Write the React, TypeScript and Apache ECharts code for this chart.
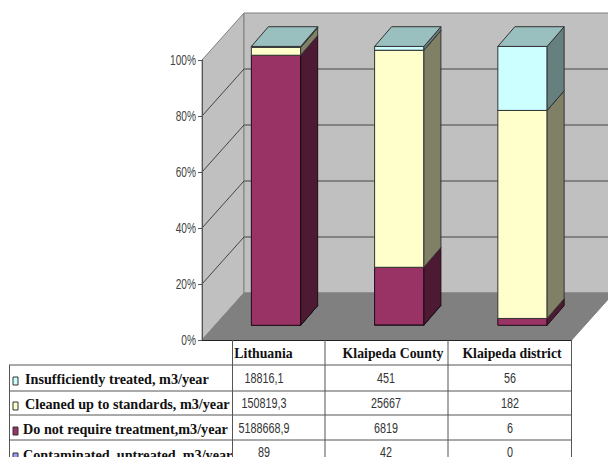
import React, { useEffect, useRef } from "react";
import * as echarts from "echarts";

const categories = ["Lithuania", "Klaipeda County", "Klaipeda district"];
const seriesNames = [
  "Contaminated, untreated, m3/year",
  "Do not require treatment,m3/year",
  "Cleaned up to standards, m3/year",
  "Insufficiently treated, m3/year",
];
const contaminated = [89, 42, 0];
const noTreatment = [5188668.9, 6819, 6];
const cleaned = [150819.3, 25667, 182];
const insufficient = [18816.1, 451, 56];
const yTicks = [0, 20, 40, 60, 80, 100];

const faceColors = ["#9999FF", "#993366", "#FFFFCC", "#CCFFFF"];
const sideColors = ["#4D4D80", "#4D1A33", "#808066", "#668080"];
const topColors = ["#7373BF", "#732650", "#BFBF99", "#99BFBF"];

const stackRows = [contaminated, noTreatment, cleaned, insufficient];
const totals = categories.map((_, i) => stackRows.reduce((a, r) => a + r[i], 0));

const DX = 42, DY = 47; // plot depth
const BAR_OX = 12.4, BAR_OY = 14.7; // bar front plane
const BAR_DX = 17, BAR_DY = 19.7; // bar depth
const BAR_SCALE = 0.996;

function segmentData(k: number) {
  return categories.map((c, i) => {
    let s = 0;
    for (let j = 0; j < k; j++) s += stackRows[j][i];
    const e = s + stackRows[k][i];
    return [c, (s / totals[i]) * 100, (e / totals[i]) * 100];
  });
}

const poly = (points: number[][], fill: string, stroke: string, lineWidth = 1) => ({
  type: "polygon",
  shape: { points },
  style: { fill, stroke, lineWidth },
});
const pline = (points: number[][], stroke: string) => ({
  type: "polyline",
  shape: { points },
  style: { fill: "none", stroke, lineWidth: 1 },
});

function renderWalls(params: any, api: any) {
  const cs = params.coordSys;
  const v = api.value(0);
  const y = api.coord([0, v])[1];
  const x0 = cs.x, x1 = cs.x + cs.width;
  const yTop = cs.y, yBot = cs.y + cs.height;
  const children: any[] = [];
  if (v === 0) {
    children.push(poly([[x0, yBot], [x0 + DX, yBot - DY], [x0 + DX, yTop - DY], [x0, yTop]], "#C0C0C0", "#808080"));
    children.push(poly([[x0 + DX, yBot - DY], [x0 + DX, yTop - DY], [x1 + DX, yTop - DY], [x1 + DX, yBot - DY]], "#C0C0C0", "#808080"));
    children.push(poly([[x0, yBot], [x1, yBot], [x1 + DX, yBot - DY], [x0 + DX, yBot - DY]], "#808080", "#808080"));
  } else if (v < 100) {
    children.push(pline([[x0, y], [x0 + DX, y - DY], [x1 + DX, y - DY]], "#444444"));
  }
  children.push({
    type: "text",
    x: x0 - 6,
    y: y + 0.5,
    scaleX: 0.7,
    style: {
      text: `${v}%`,
      font: "14.5px 'Liberation Sans', sans-serif",
      fill: "#444",
      align: "right",
      verticalAlign: "middle",
    },
  });
  return { type: "group", children };
}

function renderSegment(k: number) {
  return (params: any, api: any) => {
    const idx = api.value(0);
    const s = api.value(1), e = api.value(2);
    if (e - s <= 0) return { type: "group", children: [] };
    const y0 = api.coord([idx, 0])[1];
    const pS = api.coord([idx, s]);
    const pE = api.coord([idx, e]);
    const w = api.size([1, 0])[0] * 0.4;
    const l = pS[0] + BAR_OX - w / 2;
    const r = l + w;
    const b = y0 - BAR_OY - (y0 - pS[1]) * BAR_SCALE;
    const t = y0 - BAR_OY - (y0 - pE[1]) * BAR_SCALE;
    const stroke = k === 1 ? "#1F0A14" : "#333333";
    return {
      type: "group",
      children: [
        poly([[l, b], [r, b], [r, t], [l, t]], faceColors[k], stroke),
        poly([[r, b], [r + BAR_DX, b - BAR_DY], [r + BAR_DX, t - BAR_DY], [r, t]], sideColors[k], stroke),
        poly([[l, t], [r, t], [r + BAR_DX, t - BAR_DY], [l + BAR_DX, t - BAR_DY]], topColors[k], "#333333"),
      ],
    };
  };
}

const colLines = [232.5, 325, 448, 571.5];
const rowLines = [365, 391, 415, 440];
const rowTextY = [379, 404, 429, 455];
const valueX = [264, 386, 510];
const headerX = [263.5, 393, 512];
const legendRows = [
  { label: seriesNames[3], color: "#CCFFFF", values: insufficient, x: 25 },
  { label: seriesNames[2], color: "#FFFFCC", values: cleaned, x: 25 },
  { label: seriesNames[1], color: "#993366", values: noTreatment, x: 23 },
  { label: seriesNames[0], color: "#9999FF", values: contaminated, x: 23 },
];
const fmt = (v: number) => String(v).replace(".", ",");

function tableGraphics() {
  const serif = "'Liberation Serif', serif";
  const sans = "'Liberation Sans', sans-serif";
  const els: any[] = [];
  categories.forEach((c, i) => {
    els.push({
      type: "text", x: headerX[i], y: 353, z: 10,
      style: { text: c, font: `bold 13.8px ${serif}`, fill: "#111", align: "center", verticalAlign: "middle" },
    });
  });
  legendRows.forEach((row, r) => {
    els.push({
      type: "text", x: row.x, y: rowTextY[r], z: 10,
      style: { text: row.label, font: `bold 14.2px ${serif}`, fill: "#111", align: "left", verticalAlign: "middle" },
    });
    els.push({
      type: "rect", z: 10, shape: { x: 13, y: rowTextY[r] - 2, width: 5, height: 8 },
      style: { fill: row.color, stroke: "#333", lineWidth: 1 },
    });
    row.values.forEach((v, i) => {
      els.push({
        type: "text", x: valueX[i], y: rowTextY[r] - (r === 3 ? 2 : 0), z: 10, scaleX: 0.77,
        style: { text: fmt(v), font: `14px ${sans}`, fill: "#333", align: "center", verticalAlign: "middle" },
      });
    });
  });
  els.push({ type: "rect", z: 11, shape: { x: 232, y: 441, width: 10, height: 16 }, style: { fill: "#fff" } });
  rowLines.forEach((y) => {
    els.push({ type: "line", z: 12, shape: { x1: 9, y1: y, x2: 571.5, y2: y }, style: { stroke: "#555", lineWidth: 1 } });
  });
  els.push({ type: "line", z: 12, shape: { x1: 9.5, y1: 365, x2: 9.5, y2: 457 }, style: { stroke: "#555", lineWidth: 1 } });
  colLines.forEach((x) => {
    els.push({ type: "line", z: 12, shape: { x1: x, y1: 340, x2: x, y2: 457 }, style: { stroke: "#555", lineWidth: 1 } });
  });
  return els;
}

export default function App() {
  const ref = useRef<HTMLDivElement>(null);
  useEffect(() => {
    const chart = echarts.init(ref.current!, undefined, { renderer: "svg" });
    chart.setOption({
      animation: false,
      backgroundColor: "#fff",
      grid: { left: 202, right: 36.3, top: 60, bottom: 117, containLabel: false },
      xAxis: {
        type: "category",
        data: categories,
        z: 5,
        axisLine: { lineStyle: { color: "#222", width: 1 } },
        axisTick: { show: false },
        axisLabel: { show: false },
      },
      yAxis: {
        type: "value",
        min: 0,
        max: 100,
        interval: 20,
        z: 5,
        axisLine: { show: true, lineStyle: { color: "#555", width: 1 } },
        axisTick: { show: true, length: 4, lineStyle: { color: "#555" } },
        splitLine: { show: false },
        axisLabel: { show: false },
      },
      series: [
        {
          type: "custom",
          name: "walls",
          silent: true,
          clip: false,
          z: 1,
          data: yTicks.map((t) => [t]),
          encode: { y: 0 },
          renderItem: renderWalls,
        },
        ...seriesNames.map((name, k) => ({
          type: "custom",
          name,
          clip: false,
          z: 2 + k,
          data: segmentData(k),
          encode: { x: 0, y: [1, 2] },
          renderItem: renderSegment(k),
        })),
      ],
      graphic: tableGraphics(),
    });
    return () => chart.dispose();
  }, []);
  return <div ref={ref} style={{ position: "absolute", left: 0, top: 0, width: 608, height: 457, overflow: "hidden" }} />;
}
